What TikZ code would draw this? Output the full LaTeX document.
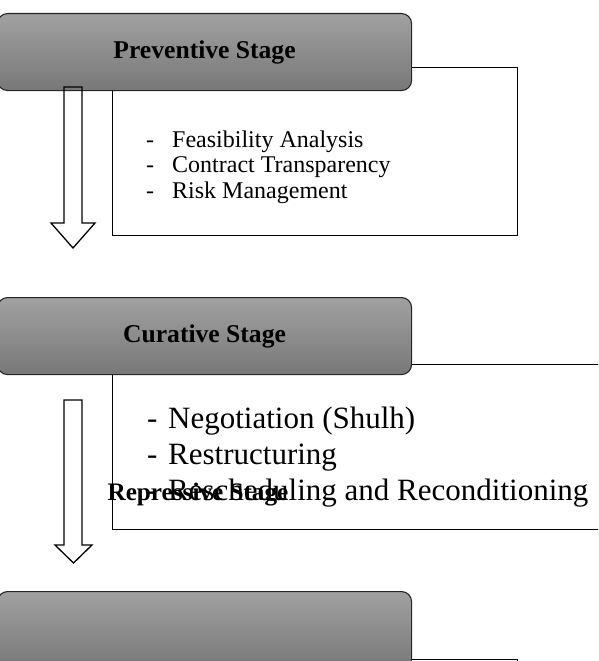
\documentclass[tikz,border=0pt]{standalone}
\usepackage{fontspec}
\setmainfont{Liberation Serif}

\begin{document}
\begin{tikzpicture}[x=1pt,y=-1pt,
  stage/.style={draw=black!85,line width=1.1pt,rounded corners=10pt,
    top color=black!37,bottom color=black!53,minimum width=414pt,
    minimum height=77pt,anchor=north west,inner sep=0pt,
    font=\fontsize{25.6}{30}\selectfont\bfseries},
  panel/.style={draw=black,line width=1pt,fill=white},
  itemA/.style={anchor=base west,inner sep=0pt,font=\fontsize{24}{26}\selectfont},
  itemB/.style={anchor=base west,inner sep=0pt,font=\fontsize{31}{36}\selectfont},
  blockarrow/.style={draw=black,line width=1.3pt,line join=miter}]
\useasboundingbox (0,0) rectangle (598,661);
\clip (0,0) rectangle (598,661);
% panels behind the stages
\draw[panel] (112,68) rectangle (517,235);
\draw[panel] (112,364) rectangle (610,529);
\draw[panel] (112,659) rectangle (517,680);
% stages
\node[stage] (prev) at (-3,13) {Preventive Stage};
\node[stage] (cur) at (-3,297) {Curative Stage};
\node[stage] (rep) at (-3,591) {};
% preventive items
\node[itemA] (feas) at (146,147) {\makebox[26pt][l]{-}Feasibility Analysis};
\node[itemA] (contr) at (146,172.5) {\makebox[26pt][l]{-}Contract Transparency};
\node[itemA] (risk) at (146,198) {\makebox[26pt][l]{-}Risk Management};
% curative items
\node[itemB] (nego) at (147,428) {\makebox[21pt][l]{-}Negotiation (Shulh)};
\node[itemB] (restr) at (147,464) {\makebox[21pt][l]{-}Restructuring};
\node[itemB] (resch) at (147,500) {\makebox[21pt][l]{-}Rescheduling and Reconditioning};
\node[anchor=base,inner sep=0pt,font=\fontsize{25.2}{30}\selectfont\bfseries]
  (reptitle) at (198,500) {Repressive Stage};
% arrows
\draw[blockarrow] (64,87) -- (82,87) -- (82,223) -- (95,223) -- (73,248)
  -- (51,223) -- (64,223) -- cycle;
\draw[blockarrow] (64,400) -- (82,400) -- (82,545) -- (92,545) -- (73.5,563)
  -- (55,545) -- (64,545) -- cycle;
\end{tikzpicture}
\end{document}
